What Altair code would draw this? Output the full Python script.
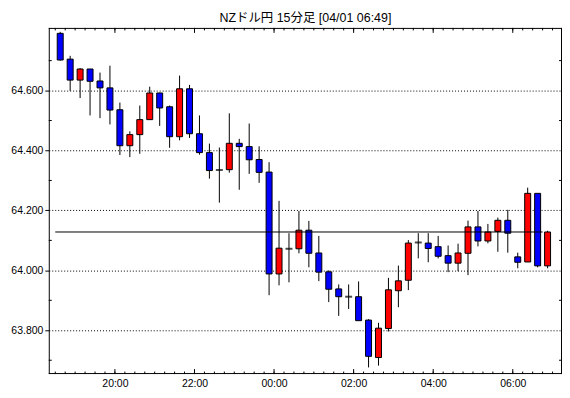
import altair as alt
import numpy as np
import pandas as pd

# ---- data (15-minute candles, 18:30 -> 07:00) ----
opens = [64.791, 64.705, 64.635, 64.672, 64.632, 64.609, 64.536, 64.416, 64.453, 64.503,
         64.592, 64.546, 64.446, 64.606, 64.456, 64.393, 64.335, 64.336, 64.424, 64.413,
         64.370, 64.328, 63.988, 64.072, 64.072, 64.134, 64.058, 63.995, 63.938, 63.912,
         63.912, 63.834, 63.709, 63.806, 63.932, 63.967, 64.093, 64.091, 64.079, 64.049,
         64.024, 64.057, 64.145, 64.098, 64.130, 64.167, 64.045, 64.028, 64.257, 64.015]
highs = [64.796, 64.716, 64.675, 64.672, 64.660, 64.683, 64.560, 64.464, 64.550, 64.613,
         64.593, 64.550, 64.650, 64.619, 64.517, 64.423, 64.410, 64.524, 64.439, 64.490,
         64.414, 64.361, 64.232, 64.124, 64.198, 64.165, 64.115, 64.000, 63.953, 63.953,
         63.963, 63.837, 63.825, 63.975, 64.016, 64.101, 64.124, 64.124, 64.115, 64.083,
         64.089, 64.166, 64.198, 64.155, 64.176, 64.202, 64.059, 64.276, 64.257, 64.132]
lows = [64.700, 64.599, 64.575, 64.517, 64.508, 64.487, 64.385, 64.378, 64.389, 64.503,
        64.482, 64.409, 64.434, 64.442, 64.386, 64.306, 64.226, 64.326, 64.269, 64.322,
        64.292, 63.917, 63.950, 63.960, 64.057, 64.010, 63.964, 63.894, 63.848, 63.871,
        63.832, 63.676, 63.682, 63.796, 63.877, 63.934, 64.040, 64.027, 64.040, 63.994,
        63.997, 63.984, 64.080, 64.090, 64.062, 64.059, 64.007, 64.028, 64.010, 64.007]
closes = [64.702, 64.635, 64.672, 64.631, 64.609, 64.535, 64.416, 64.453, 64.503, 64.592,
          64.542, 64.446, 64.606, 64.456, 64.393, 64.333, 64.335, 64.424, 64.413, 64.369,
          64.327, 63.988, 64.074, 64.072, 64.134, 64.057, 63.994, 63.937, 63.912, 63.912,
          63.832, 63.713, 63.807, 63.935, 63.965, 64.091, 64.093, 64.073, 64.047, 64.024,
          64.058, 64.145, 64.098, 64.128, 64.167, 64.124, 64.027, 64.257, 64.015, 64.128]

title_text = "NZドル円 15分足 [04/01 06:49]"
x_label_texts = ["20:00", "22:00", "00:00", "02:00", "04:00", "06:00"]
x_label_units = [6, 14, 22, 30, 38, 46]          # 15-min slots after 18:30
y_label_values = [63.8, 64.0, 64.2, 64.4, 64.6]
y_minor_values = [63.7, 63.9, 64.1, 64.3, 64.5, 64.7]

n = len(opens)
df = pd.DataFrame({"i": np.arange(n), "o": opens, "h": highs, "l": lows, "c": closes})
df["mid"] = df["i"] + 0.5
df["left"] = df["i"] + 0.2
df["right"] = df["i"] + 0.8
df["dir"] = np.where(df["c"] > df["o"], "up", np.where(df["c"] < df["o"], "down", "flat"))

W, H = 516, 348
FONT = "Liberation Sans"
xs = alt.Scale(domain=[-0.65, 50.95], nice=False, zero=False)
ys = alt.Scale(domain=[63.6539, 64.8091], nice=False, zero=False)

label_expr = ("[" + ",".join(f"'{t}'" for t in x_label_texts) + "][indexof(["
              + ",".join(str(v) for v in x_label_units) + "], datum.value)]")

AX = alt.Axis(values=x_label_units, labelExpr=label_expr, ticks=False, grid=False,
              domain=False, title=None, labelPadding=5, labelFontSize=10.5,
              labelFont=FONT, labelColor="black")
AY = alt.Axis(values=y_label_values, format=".3f", grid=True, gridDash=[1, 2],
              gridColor="black", gridOpacity=1, tickSize=4, tickColor="black",
              domain=False, title=None, labelPadding=2, labelFontSize=10.5,
              labelFont=FONT, labelColor="black")

wicks = alt.Chart(df).mark_rule(color="black", strokeWidth=1).encode(
    x=alt.X("mid:Q", scale=xs, axis=AX),
    y=alt.Y("l:Q", scale=ys, axis=AY),
    y2="h:Q",
)

bodies = alt.Chart(df).transform_filter("datum.dir != 'flat'").mark_bar(
    stroke="black", strokeWidth=1).encode(
    x=alt.X("left:Q", scale=xs, axis=AX),
    x2="right:Q",
    y=alt.Y("o:Q", scale=ys, axis=AY),
    y2="c:Q",
    color=alt.Color("dir:N", scale=alt.Scale(domain=["up", "down"],
                                             range=["#FF0000", "#0000FF"]), legend=None),
)

doji = alt.Chart(df).transform_filter("datum.dir == 'flat'").mark_tick(
    orient="horizontal", color="black", thickness=2, size=7).encode(
    x=alt.X("mid:Q", scale=xs, axis=AX),
    y=alt.Y("o:Q", scale=ys, axis=AY),
)

cur = pd.DataFrame({"x0": [0], "x1": [n - 1], "p": [closes[-1]]})
cur_line = alt.Chart(cur).mark_rule(color="black", strokeWidth=1).encode(
    x=alt.X("x0:Q", scale=xs, axis=AX), x2="x1:Q",
    y=alt.Y("p:Q", scale=ys, axis=AY),
)

minor_t = pd.DataFrame({"t": list(range(0, 51))})
major_t = pd.DataFrame({"t": x_label_units})
ymin = pd.DataFrame({"p": y_minor_values})


def xticks(data, y0, y1):
    return alt.Chart(data).mark_rule(color="black", strokeWidth=1).encode(
        x=alt.X("t:Q", scale=xs, axis=AX), y=alt.value(y0), y2=alt.value(y1))


def yticks(x0, x1):
    return alt.Chart(ymin).mark_rule(color="black", strokeWidth=1).encode(
        y=alt.Y("p:Q", scale=ys, axis=AY), x=alt.value(x0), x2=alt.value(x1))


# plot frame drawn on half pixels so that it stays a crisp 1px black line
frame_df = pd.DataFrame({"k": [0]})
frame = [
    alt.Chart(frame_df).mark_rule(color="black", strokeWidth=1).encode(
        x=alt.value(0.5), y=alt.value(0), y2=alt.value(H)),
    alt.Chart(frame_df).mark_rule(color="black", strokeWidth=1).encode(
        x=alt.value(W - 0.5), y=alt.value(0), y2=alt.value(H)),
    alt.Chart(frame_df).mark_rule(color="black", strokeWidth=1).encode(
        y=alt.value(0.5), x=alt.value(0), x2=alt.value(W)),
    alt.Chart(frame_df).mark_rule(color="black", strokeWidth=1).encode(
        y=alt.value(H - 0.5), x=alt.value(0), x2=alt.value(W)),
]

tick_layers = [
    xticks(minor_t, H, H - 2.5), xticks(minor_t, 0, 2.5),
    xticks(major_t, H, H - 5), xticks(major_t, 0, 5),
    yticks(0, 3), yticks(W, W - 3),
]

chart = alt.layer(wicks, bodies, doji, cur_line, *tick_layers, *frame).properties(
    width=W, height=H,
    background="white",
    title=alt.TitleParams(title_text, fontSize=12.5,
                          font="Liberation Sans, Noto Sans CJK JP",
                          fontWeight="normal", color="black", offset=3, anchor="middle"),
    autosize=alt.AutoSizeParams(type="none"),
    padding={"left": 41, "top": 19, "right": 0, "bottom": 14},
).configure_view(stroke=None)

chart.save("out.html", embed_options={"renderer": "svg", "actions": False})
